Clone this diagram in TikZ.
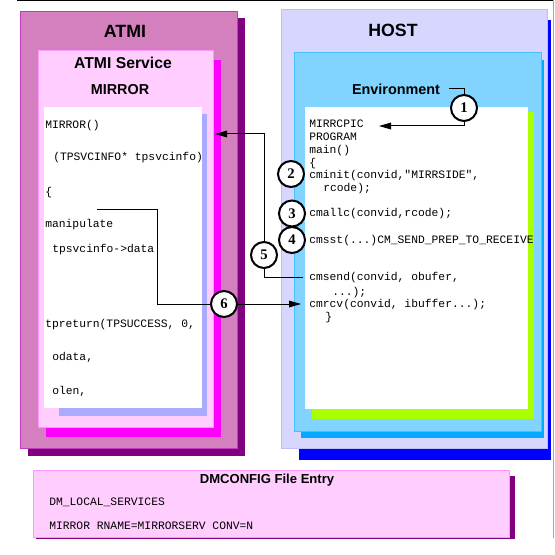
\documentclass[tikz,border=0pt]{standalone}
\usepackage{fontspec}
\setmainfont{Liberation Sans}
\newfontfamily\codefont{Liberation Mono}
\newfontfamily\numfont{Liberation Serif}
\usetikzlibrary{arrows.meta}
\definecolor{atmiC}{RGB}{212,128,190}
\definecolor{atmiB}{RGB}{190,60,190}
\definecolor{purpS}{RGB}{128,0,128}
\definecolor{svcC}{RGB}{255,206,255}
\definecolor{svcB}{RGB}{255,150,255}
\definecolor{magS}{RGB}{255,0,255}
\definecolor{lavS}{RGB}{170,170,255}
\definecolor{hostC}{RGB}{214,214,255}
\definecolor{hostB}{RGB}{190,190,250}
\definecolor{blueS}{RGB}{0,0,255}
\definecolor{envC}{RGB}{128,212,255}
\definecolor{envB}{RGB}{70,195,255}
\definecolor{envS}{RGB}{0,170,255}
\definecolor{greenS}{RGB}{170,255,0}
\begin{document}
\begin{tikzpicture}[x=0.75pt,y=-0.75pt,
  bigtitle/.style={font=\fontsize{13.3}{16}\selectfont\bfseries, inner sep=0, anchor=base},
  midtitle/.style={font=\fontsize{11.8}{14}\selectfont\bfseries, inner sep=0, anchor=base},
  smalltitle/.style={font=\fontsize{10.8}{13}\selectfont\bfseries, inner sep=0, anchor=base},
  code/.style={font=\codefont\fontsize{8.5}{10}\selectfont, inner sep=0, anchor=base west},
  num/.style={circle, draw, line width=1.5pt, fill=white, minimum size=19.5pt, inner sep=0,
    font=\numfont\bfseries\fontsize{11}{12}\selectfont},
  conn/.style={line width=0.75pt},
  arr/.style={conn, -{Triangle[length=9pt,width=5pt]}}]
\useasboundingbox (0,0) rectangle (554,555);
% frame lines
\draw[line width=0.9pt] (17,0.5) -- (554,0.5);
\draw[gray!70, line width=0.75pt] (553,0) -- (553,538);
% ATMI
\fill[purpS] (28,18) rectangle (245,456);
\filldraw[fill=atmiC, draw=atmiB, line width=0.75pt] (20,12) rectangle (237,448);
\fill[magS] (46,60) rectangle (221,437);
\filldraw[fill=svcC, draw=svcB, line width=0.75pt] (38,51) rectangle (213,427);
\fill[lavS] (59,114) rectangle (207,416);
\fill[white] (44,107) rectangle (202,408);
% HOST
\fill[blueS] (299,20) rectangle (551,460);
\filldraw[fill=hostC, draw=hostB, line width=0.75pt] (281,10) rectangle (547,448);
\fill[envS] (301,60) rectangle (544,438);
\filldraw[fill=envC, draw=envB, line width=0.75pt] (294,53) rectangle (541,431);
\fill[greenS] (312,112) rectangle (534,419);
\fill[white] (305,107) rectangle (528,409);
% DMCONFIG
\fill[purpS] (36,476) rectangle (515,539);
\filldraw[fill=svcC, draw=svcB, line width=0.75pt] (33,470) rectangle (509,537);

% titles
\node[bigtitle] (atmiT) at (125,37.5) {ATMI};
\node[midtitle] (svcT) at (123,69) {ATMI Service};
\node[smalltitle] (mirT) at (120,94.3) {MIRROR};
\node[bigtitle] (hostT) at (393,36.7) {HOST};
\node[smalltitle] (envT) at (396,95) {Environment};
\node[font=\fontsize{9.8}{12}\selectfont\bfseries, inner sep=0, anchor=base] (dmT) at (267,483.3) {DMCONFIG File Entry};

% left code
\node[code] (l1) at (45,128.5) {MIRROR()};
\node[code] (l2) at (53,160.5) {(TPSVCINFO* tpsvcinfo)};
\node[code] (l3) at (45,196) {\{};
\node[code] (l4) at (45,227.5) {manipulate};
\node[code] (l5) at (52,252.5) {tpsvcinfo->data};
\node[code] (l6) at (45,327.5) {tpreturn(TPSUCCESS, 0,};
\node[code] (l7) at (52,360.5) {odata,};
\node[code] (l8) at (52,394.5) {olen,};

% host code
\node[code] (h1) at (309,127.5) {MIRRCPIC};
\node[code] (h2) at (309,140.5) {PROGRAM};
\node[code] (h3) at (309,153.5) {main()};
\node[code] (h4) at (309,166.5) {\{};
\node[code] (h5) at (309,178.5) {cminit(convid,"MIRRSIDE",};
\node[code] (h6) at (323,191.5) {rcode);};
\node[code] (h7) at (309,216.5) {cmallc(convid,rcode);};
\node[code] (h8) at (309,243.5) {cmsst(...)CM\_SEND\_PREP\_TO\_RECEIVE};
\node[code] (h9) at (309,280.5) {cmsend(convid, obufer,};
\node[code] (h10) at (332,295.5) {...);};
\node[code] (h11) at (309,307.5) {cmrcv(convid, ibuffer...);};
\node[code] (h12) at (325,320.5) {\}};

% DMCONFIG code
\node[code] (d1) at (49,505.5) {DM\_LOCAL\_SERVICES};
\node[code] (d2) at (49,529.5) {MIRROR RNAME=MIRRORSERV CONV=N};

% connectors (drawn before circles)
\coordinate (e1) at (449,89);
\coordinate (e2) at (464,89);
\coordinate (e3) at (464,126);
\coordinate (t1) at (379,126);
\coordinate (f1) at (264,134);
\coordinate (t5) at (215,134);
\coordinate (f2) at (264,277);
\coordinate (s5) at (303,277);
\coordinate (g1) at (97,210);
\coordinate (g2) at (157,210);
\coordinate (g3) at (157,304);
\coordinate (t6) at (301,304);

\node[num] (c1) at (464,108) {1};
\node[num] (c2) at (291,174) {2};
\node[num] (c3) at (292,213.5) {3};
\node[num] (c4) at (292,240) {4};
\node[num] (c5) at (264,255) {5};
\node[num] (c6) at (224,304) {6};

\draw[conn] (e1) -- (e2) -- (c1.north);
\draw[arr] (c1.south) -- (e3) -- (t1);
\draw[arr] (c5.north) -- (f1) -- (t5);
\draw[conn] (c5.south) -- (f2) -- (s5);
\draw[conn] (g1) -- (g2) -- (g3) -- (c6.west);
\draw[arr] (c6.east) -- (t6);
\end{tikzpicture}
\end{document}
